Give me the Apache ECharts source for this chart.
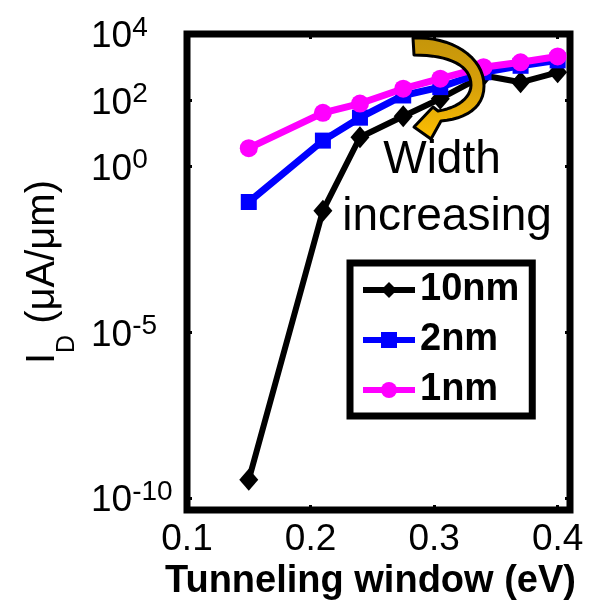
<!DOCTYPE html>
<html>
<head>
<meta charset="utf-8">
<script src="https://cdn.jsdelivr.net/npm/echarts@6/dist/echarts.min.js"></script>
<style>
html,body{margin:0;padding:0;background:#fff;}
#c{width:591px;height:606px;}
</style>
</head>
<body>
<div id="c"></div>
<script>
// ---- data ----
var xValues = [0.15, 0.21, 0.24, 0.275, 0.305, 0.34, 0.37, 0.40];
var id10nm = [3.6e-10, 0.047, 7.7, 33, 112, 560, 350, 700];
var id2nm  = [0.086, 6.1, 30, 140, 250, 700, 1100, 1600];
var id1nm  = [3.6, 42, 80, 224, 450, 1000, 1400, 2100];
var seriesNames = ['10nm', '2nm', '1nm'];
var xTickValues = [0.1, 0.2, 0.3, 0.4];
var yTickValues = [1e-10, 1e-5, 1, 1e2, 1e4];
var yTickExponents = ['-10', '-5', '0', '2', '4'];
var annotationLines = ['Width', 'increasing'];

var FONT = '"Liberation Sans", Arial, sans-serif';

function pairs(ys) { return xValues.map(function (x, i) { return [x, ys[i]]; }); }

function yLabel(v) {
  for (var i = 0; i < yTickValues.length; i++) {
    if (Math.abs(Math.log10(v) - Math.log10(yTickValues[i])) < 1e-6) {
      return '{b|10}{s|' + yTickExponents[i] + '}';
    }
  }
  return '';
}

// decorative curved arrow (annotation) built from bezier segments
function bez(p0, p1, p2, p3, n) {
  var out = [];
  for (var i = 0; i <= n; i++) {
    var t = i / n, u = 1 - t;
    out.push([
      u*u*u*p0[0] + 3*u*u*t*p1[0] + 3*u*t*t*p2[0] + t*t*t*p3[0],
      u*u*u*p0[1] + 3*u*u*t*p1[1] + 3*u*t*t*p2[1] + t*t*t*p3[1]
    ]);
  }
  return out;
}
var arrowPts = []
  .concat(bez([413,38],[450,36],[484,56],[484,86],16))
  .concat(bez([484,86],[484,108],[465,119],[441,121],12))
  .concat([[431,139],[414,127],[433,107],[438,111]])
  .concat(bez([438,111],[457,108],[471,98],[471,85],12))
  .concat(bez([471,85],[471,66],[450,55],[414,55],16));

var chart = echarts.init(document.getElementById('c'), null, {renderer: 'canvas'});

var axisTickStyle = {show: true, inside: true, length: 5, lineStyle: {color: '#000', width: 3}};

var option = {
  animation: false,
  backgroundColor: '#fff',
  grid: {left: 187, right: 21, top: 34, bottom: 92, show: true, borderColor: '#000', borderWidth: 7, backgroundColor: 'transparent'},
  xAxis: [{
    type: 'value', min: 0.1, max: 0.41, interval: 0.1,
    axisLine: {show: false},
    splitLine: {show: false},
    axisTick: Object.assign({customValues: xTickValues}, axisTickStyle),
    axisLabel: {customValues: xTickValues, fontSize: 37, color: '#000', fontFamily: FONT, margin: 11,
      formatter: function (v) { return v.toFixed(1); }},
    name: 'Tunneling window (eV)', nameLocation: 'middle', nameGap: 46,
    nameTextStyle: {fontSize: 38, fontWeight: 'bold', color: '#000', fontFamily: FONT, padding: [0, 16, 0, 0]}
  }, {
    type: 'value', position: 'top', min: 0.1, max: 0.41, interval: 0.1,
    axisLine: {show: false}, splitLine: {show: false}, axisLabel: {show: false},
    axisTick: Object.assign({customValues: xTickValues}, axisTickStyle)
  }],
  yAxis: [{
    type: 'log', logBase: 10, min: 4.4e-11, max: 1e4,
    axisLine: {show: false},
    splitLine: {show: false},
    axisTick: Object.assign({customValues: yTickValues}, axisTickStyle),
    axisLabel: {customValues: yTickValues, formatter: yLabel, align: 'left', margin: 96,
      rich: {
        b: {fontSize: 37, lineHeight: 40, padding: [6, 0, 0, 0], color: '#000', fontFamily: FONT},
        s: {fontSize: 28, lineHeight: 20, verticalAlign: 'top', color: '#000', fontFamily: FONT}
      }},
    name: '{i|I}{d|D}{t| (μA/μm)}', nameLocation: 'middle', nameRotate: 90, nameGap: 113,
    nameTextStyle: {
      rich: {
        i: {fontSize: 40, lineHeight: 40, verticalAlign: 'top', color: '#000', fontFamily: FONT},
        d: {fontSize: 25, lineHeight: 25, padding: [32, 0, 0, 0], verticalAlign: 'top', color: '#000', fontFamily: FONT},
        t: {fontSize: 40, lineHeight: 40, verticalAlign: 'top', color: '#000', fontFamily: FONT}
      }
    }
  }, {
    type: 'log', logBase: 10, min: 4.4e-11, max: 1e4, position: 'right',
    axisLine: {show: false}, splitLine: {show: false}, axisLabel: {show: false},
    axisTick: Object.assign({customValues: yTickValues}, axisTickStyle)
  }],
  legend: {
    orient: 'vertical', left: 350, top: 263,
    data: seriesNames,
    itemWidth: 52, itemHeight: 20, itemGap: 12,
    padding: [8, 13, 7, 10],
    borderColor: '#000', borderWidth: 7, backgroundColor: '#fff',
    lineStyle: {width: 6},
    textStyle: {fontSize: 38, fontWeight: 'bold', color: '#000', fontFamily: FONT, lineHeight: 38}
  },
  series: [
    {name: seriesNames[0], type: 'line', data: pairs(id10nm), symbol: 'diamond', symbolSize: [19, 22],
      lineStyle: {width: 6, color: '#000'}, itemStyle: {color: '#000'}, z: 2},
    {name: seriesNames[1], type: 'line', data: pairs(id2nm), symbol: 'rect', symbolSize: 16,
      lineStyle: {width: 7, color: '#0000FF'}, itemStyle: {color: '#0000FF'}, z: 3},
    {name: seriesNames[2], type: 'line', data: pairs(id1nm), symbol: 'circle', symbolSize: 18,
      lineStyle: {width: 7, color: '#FF00FF'}, itemStyle: {color: '#FF00FF'}, z: 4}
  ],
  graphic: [
    {type: 'polygon', z: 100, shape: {points: arrowPts},
      style: {fill: {type: 'linear', x: 0, y: 0, x2: 0, y2: 1, colorStops: [
        {offset: 0, color: '#C4950A'}, {offset: 0.5, color: '#D8A10A'}, {offset: 1, color: '#FFC000'}]},
        stroke: '#000', lineWidth: 3, lineJoin: 'round'}},
    {type: 'text', z: 100, x: 442, y: 160,
      style: {text: annotationLines[0], font: '46px ' + FONT, fill: '#000', textAlign: 'center', textVerticalAlign: 'middle', verticalAlign: 'middle'}},
    {type: 'text', z: 100, x: 447, y: 217,
      style: {text: annotationLines[1], font: '46px ' + FONT, fill: '#000', textAlign: 'center', textVerticalAlign: 'middle', verticalAlign: 'middle'}}
  ]
};
chart.setOption(option);
</script>
</body>
</html>
